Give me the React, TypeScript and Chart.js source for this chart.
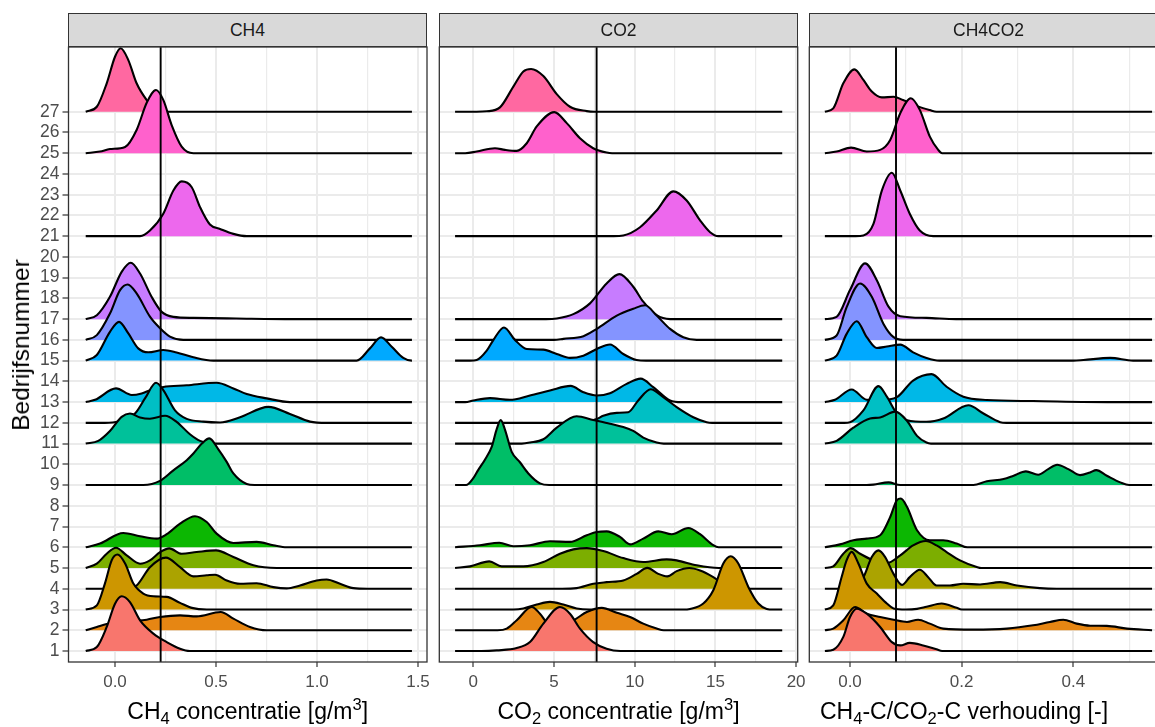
import React, { useEffect, useRef } from 'react';
import { Chart, registerables } from 'chart.js';

Chart.register(...registerables);

// ---------- data ----------
const farms = [1, 2, 3, 4, 5, 6, 9, 11, 12, 13, 15, 16, 17, 21, 25, 27];
const farmColors = ['#F8766D', '#E68613', '#CD9600', '#ABA300', '#7CAE00', '#0CB702', '#00BE67', '#00C19A',
  '#00BFC4', '#00B8E7', '#00A9FF', '#8494FF', '#C77CFF', '#ED68ED', '#FF61CC', '#FF68A1'];
const yTicks = [1, 2, 3, 4, 5, 6, 7, 8, 9, 10, 11, 12, 13, 14, 15, 16, 17, 18, 19, 20, 21, 22, 23, 24, 25, 26, 27];

// ridge heights [x, height above baseline], in farm order
const ch4Ridges: number[][][] = [
  /*1*/[[-0.09, 0.19], [-0.041, 1.16], [0, 2.28], [0.033, 2.64], [0.074, 2.36], [0.124, 1.48], [0.19, 0.84], [0.256, 0.43], [0.322, 0.11], [0.37, 0]],
  /*2*/[[-0.09, 0.16], [-0.041, 0.3], [0.02, 0.4], [0.09, 0.45], [0.157, 0.51], [0.223, 0.64], [0.322, 0.72], [0.404, 0.67], [0.523, 0.88], [0.586, 0.56], [0.668, 0.16], [0.751, 0]],
  /*3*/[[-0.09, 0.2], [-0.05, 1.25], [-0.016, 2.38], [0.012, 2.65], [0.05, 2.22], [0.091, 1.25], [0.14, 0.77], [0.19, 0.64], [0.256, 0.61], [0.322, 0.32], [0.38, 0.08], [0.454, 0]],
  /*4*/[[0.05, 0], [0.107, 0.16], [0.173, 1.04], [0.252, 1.5], [0.322, 1.04], [0.388, 0.6], [0.454, 0.65], [0.495, 0.68], [0.553, 0.4], [0.619, 0.24], [0.701, 0.27], [0.784, 0.08], [0.85, 0.02], [0.916, 0.16], [0.998, 0.4], [1.048, 0.45], [1.114, 0.24], [1.18, 0.03], [1.25, 0]],
  /*5*/[[-0.09, 0.21], [-0.041, 0.69], [0.005, 0.98], [0.058, 0.61], [0.124, 0.21], [0.173, 0.37], [0.223, 0.77], [0.269, 0.95], [0.33, 0.69], [0.404, 0.77], [0.5, 0.85], [0.586, 0.53], [0.685, 0.13], [0.8, 0]],
  /*6*/[[-0.074, 0.18], [0.041, 0.69], [0.124, 0.53], [0.206, 0.42], [0.256, 0.63], [0.322, 1.14], [0.396, 1.5], [0.454, 1.22], [0.503, 0.66], [0.586, 0.21], [0.701, 0.26], [0.784, 0.1], [0.85, 0]],
  /*9*/[[0.14, 0], [0.223, 0.2], [0.289, 0.71], [0.355, 1.2], [0.388, 1.52], [0.43, 2.0], [0.467, 2.25], [0.51, 1.75], [0.553, 1.12], [0.586, 0.56], [0.652, 0.05], [0.69, 0]],
  /*11*/[[-0.083, 0.13], [-0.025, 0.61], [0.033, 1.29], [0.074, 1.45], [0.124, 1.26], [0.173, 1.2], [0.248, 1.34], [0.305, 1.05], [0.371, 0.45], [0.421, 0.13], [0.487, 0]],
  /*12*/[[-0.05, 0], [0.02, 0.08], [0.099, 0.45], [0.15, 1.2], [0.203, 1.93], [0.239, 1.58], [0.297, 0.6], [0.355, 0.19], [0.437, 0.06], [0.52, 0.02], [0.619, 0.27], [0.759, 0.77], [0.866, 0.43], [0.965, 0.06], [1.048, 0]],
  /*13*/[[-0.099, 0.11], [0.005, 0.66], [0.083, 0.34], [0.132, 0.42], [0.18, 0.6], [0.239, 0.73], [0.355, 0.81], [0.503, 0.93], [0.586, 0.66], [0.652, 0.39], [0.751, 0.18], [0.866, 0]],
  /*15*/[[-0.09, 0.27], [-0.025, 1.39], [0.02, 1.87], [0.066, 1.31], [0.115, 0.59], [0.165, 0.4], [0.239, 0.51], [0.305, 0.39], [0.388, 0.16], [0.487, 0], [1.196, 0], [1.262, 0.59], [1.317, 1.12], [1.37, 0.67], [1.427, 0.13], [1.469, 0]],
  /*16*/[[-0.09, 0.23], [-0.025, 1.27], [0.025, 2.4], [0.063, 2.67], [0.107, 2.24], [0.173, 1.12], [0.223, 0.56], [0.272, 0.16], [0.338, 0]],
  /*17*/[[-0.09, 0.19], [-0.025, 1.08], [0.033, 2.28], [0.078, 2.72], [0.124, 2.2], [0.181, 1.08], [0.231, 0.35], [0.289, 0.11], [0.388, 0.06], [0.6, 0.03], [0.88, 0]],
  /*21*/[[0.124, 0], [0.173, 0.27], [0.239, 1.08], [0.289, 2.2], [0.33, 2.64], [0.38, 2.36], [0.421, 1.4], [0.47, 0.56], [0.52, 0.35], [0.586, 0.11], [0.652, 0]],
  /*25*/[[-0.074, 0.08], [-0.025, 0.2], [0.05, 0.3], [0.107, 1.12], [0.157, 2.43], [0.203, 3.05], [0.239, 2.57], [0.28, 1.37], [0.33, 0.32], [0.388, 0]],
  /*27*/[[-0.09, 0.24], [-0.041, 1.37], [0, 2.65], [0.028, 3.06], [0.066, 2.49], [0.107, 1.37], [0.157, 0.56], [0.206, 0.05], [0.25, 0]],
];

const co2Ridges: number[][][] = [
  /*1*/[[0.5, 0], [1.45, 0.03], [2.69, 0.14], [3.51, 0.43], [4.34, 1.32], [5.37, 2.12], [5.99, 1.8], [6.61, 1.08], [7.43, 0.43], [8.26, 0.11], [9.1, 0]],
  /*2*/[[1.5, 0], [2.07, 0.08], [2.69, 0.48], [3.62, 1.12], [4.13, 0.8], [4.65, 0.32], [5.3, 0.25], [6.2, 0.48], [7.03, 0.88], [7.96, 1.08], [8.89, 0.84], [9.71, 0.64], [10.53, 0.32], [11.36, 0.08], [11.8, 0]],
  /*3*/[[2.5, 0], [3.1, 0.05], [3.93, 0.24], [4.75, 0.37], [5.58, 0.24], [6.4, 0.05], [7.2, 0], [13.0, 0], [13.43, 0.03], [14.25, 0.29], [14.87, 0.93], [15.49, 2.22], [15.95, 2.57], [16.42, 2.22], [17.04, 1.09], [17.66, 0.29], [18.18, 0.03], [18.6, 0]],
  /*4*/[[5.5, 0], [6.4, 0.03], [7.43, 0.24], [8.26, 0.32], [9.29, 0.4], [10.12, 0.72], [10.78, 1.01], [11.46, 0.72], [12.02, 0.6], [12.6, 0.85], [13.38, 1.0], [14.05, 0.88], [14.87, 0.56], [15.49, 0.24], [16.3, 0]],
  /*5*/[[-0.2, 0.08], [0.99, 0.32], [1.76, 0.08], [3.1, 0.08], [4.34, 0.29], [5.37, 0.69], [6.2, 0.9], [7.03, 0.96], [8.05, 0.82], [9.29, 0.48], [10.53, 0.29], [11.98, 0.42], [12.6, 0.37], [13.84, 0.13], [15.2, 0]],
  /*6*/[[0.41, 0.1], [1.61, 0.22], [2.48, 0.05], [3.51, 0.1], [4.75, 0.29], [5.99, 0.26], [7.03, 0.58], [7.65, 0.74], [8.26, 0.77], [9.09, 0.5], [9.71, 0.14], [10.53, 0.42], [11.46, 0.77], [12.29, 0.63], [13.32, 0.93], [14.05, 0.63], [14.87, 0.1], [15.2, 0]],
  /*9*/[[-0.45, 0], [0.0, 0.33], [0.3, 0.72], [0.7, 1.2], [1.14, 1.84], [1.45, 2.7], [1.7, 3.13], [1.95, 2.7], [2.38, 1.6], [2.89, 1.1], [3.41, 0.56], [4.13, 0.08], [4.7, 0]],
  /*11*/[[3.0, 0], [3.51, 0.05], [4.34, 0.21], [5.17, 0.77], [6.4, 1.32], [7.43, 1.14], [8.47, 0.96], [9.29, 0.8], [9.91, 0.61], [10.53, 0.29], [11.36, 0.05], [11.8, 0]],
  /*12*/[[5.5, 0], [6.4, 0.03], [7.65, 0.19], [8.05, 0.34], [8.89, 0.48], [9.6, 0.51], [10.22, 1.08], [10.99, 1.62], [11.77, 1.24], [12.6, 0.76], [13.63, 0.27], [14.46, 0.03], [14.8, 0]],
  /*13*/[[-0.5, 0], [0, 0.08], [1.03, 0.19], [2.27, 0.11], [3.51, 0.32], [4.75, 0.56], [6.03, 0.78], [6.82, 0.48], [7.65, 0.32], [8.47, 0.43], [9.5, 0.88], [10.37, 1.13], [11.15, 0.72], [12.19, 0.08], [12.9, 0]],
  /*15*/[[-0.2, 0], [0.21, 0.03], [0.83, 0.48], [1.24, 0.99], [1.9, 1.6], [2.58, 1.0], [3.31, 0.56], [4.34, 0.53], [5.17, 0.32], [5.99, 0.13], [6.82, 0.24], [7.65, 0.56], [8.47, 0.78], [9.29, 0.32], [10.12, 0.03], [10.7, 0]],
  /*16*/[[5.0, 0], [5.58, 0.05], [6.82, 0.18], [7.65, 0.53], [8.89, 1.17], [9.91, 1.5], [10.64, 1.67], [11.36, 1.17], [12.19, 0.53], [13.01, 0.13], [13.84, 0]],
  /*17*/[[4.5, 0], [5.17, 0.03], [6.2, 0.24], [7.23, 0.76], [8.26, 1.72], [9.05, 2.17], [9.91, 1.56], [10.53, 0.84], [11.36, 0.19], [12.19, 0]],
  /*21*/[[8.7, 0], [9.29, 0.03], [10.33, 0.43], [11.36, 1.24], [12.39, 2.16], [13.22, 1.72], [14.05, 0.76], [14.67, 0.19], [15.18, 0]],
  /*25*/[[-0.5, 0], [0.21, 0.08], [1.34, 0.24], [1.96, 0.16], [2.69, 0.11], [3.31, 0.48], [3.93, 1.29], [5.02, 1.98], [5.79, 1.45], [6.61, 0.72], [7.43, 0.24], [8.26, 0.03], [8.6, 0]],
  /*27*/[[0.2, 0], [0.83, 0.02], [1.65, 0.21], [2.48, 1.21], [3.1, 1.94], [3.58, 2.06], [4.34, 1.72], [5.17, 0.85], [5.99, 0.24], [7.03, 0.03], [7.5, 0]],
];

const ratioRidges: number[][][] = [
  /*1*/[[-0.03, 0.06], [-0.012, 0.68], [0, 1.64], [0.012, 2.04], [0.03, 1.8], [0.054, 1.16], [0.075, 0.43], [0.09, 0.27], [0.107, 0.39], [0.131, 0.27], [0.155, 0.08], [0.165, 0]],
  /*2*/[[-0.03, 0.08], [-0.012, 0.48], [0.009, 1.12], [0.03, 0.8], [0.054, 0.64], [0.078, 0.51], [0.102, 0.4], [0.122, 0.51], [0.143, 0.32], [0.167, 0.08], [0.221, 0.03], [0.281, 0.08], [0.328, 0.24], [0.358, 0.4], [0.382, 0.51], [0.406, 0.32], [0.43, 0.22], [0.46, 0.21], [0.496, 0.08], [0.541, 0]],
  /*3*/[[-0.03, 0.2], [-0.015, 1.57], [-0.006, 2.38], [0.003, 2.78], [0.015, 2.22], [0.03, 1.25], [0.048, 0.77], [0.066, 0.29], [0.078, 0.05], [0.1, 0], [0.12, 0.03], [0.137, 0.13], [0.164, 0.29], [0.191, 0.08], [0.2, 0]],
  /*4*/[[-0.01, 0], [0.005, 0.08], [0.024, 0.56], [0.039, 1.53], [0.051, 1.85], [0.063, 1.53], [0.078, 0.72], [0.093, 0.19], [0.107, 0.56], [0.125, 0.92], [0.14, 0.56], [0.155, 0.16], [0.179, 0.16], [0.203, 0.24], [0.233, 0.21], [0.269, 0.32], [0.299, 0.16], [0.34, 0.03], [0.37, 0]],
  /*5*/[[-0.03, 0.08], [-0.012, 0.69], [0.001, 0.96], [0.018, 0.69], [0.042, 0.37], [0.066, 0.24], [0.09, 0.61], [0.113, 1.09], [0.136, 1.3], [0.155, 1.09], [0.173, 0.77], [0.197, 0.37], [0.227, 0.05], [0.235, 0]],
  /*6*/[[-0.018, 0.14], [0.006, 0.34], [0.03, 0.42], [0.054, 0.58], [0.072, 1.46], [0.084, 2.27], [0.091, 2.35], [0.102, 1.95], [0.12, 0.82], [0.143, 0.34], [0.167, 0.34], [0.191, 0.18], [0.21, 0]],
  /*9*/[[0.03, 0], [0.042, 0.02], [0.069, 0.13], [0.09, 0], [0.221, 0], [0.245, 0.18], [0.275, 0.29], [0.293, 0.45], [0.315, 0.66], [0.337, 0.5], [0.355, 0.77], [0.371, 0.98], [0.391, 0.77], [0.412, 0.48], [0.43, 0.61], [0.441, 0.72], [0.46, 0.45], [0.484, 0.13], [0.5, 0]],
  /*11*/[[-0.024, 0.13], [0.006, 0.77], [0.036, 1.21], [0.054, 1.26], [0.081, 1.54], [0.102, 1.1], [0.12, 0.37], [0.137, 0.05], [0.145, 0]],
  /*12*/[[-0.01, 0], [0, 0.03], [0.024, 0.6], [0.051, 1.77], [0.066, 1.26], [0.084, 0.45], [0.102, 0.13], [0.137, 0.05], [0.167, 0.21], [0.212, 0.85], [0.239, 0.45], [0.269, 0.03], [0.28, 0]],
  /*13*/[[-0.027, 0.11], [0.003, 0.61], [0.03, 0.11], [0.055, 0.1], [0.084, 0.24], [0.113, 1.04], [0.146, 1.35], [0.173, 0.74], [0.203, 0.26], [0.245, 0.1], [0.328, 0.05], [0.47, 0]],
  /*15*/[[-0.024, 0.24], [-0.006, 1.29], [0.012, 1.9], [0.03, 1.13], [0.048, 0.61], [0.066, 0.68], [0.09, 0.77], [0.113, 0.4], [0.137, 0.13], [0.16, 0], [0.4, 0], [0.418, 0.03], [0.466, 0.13], [0.507, 0]],
  /*16*/[[-0.024, 0.21], [-0.006, 1.58], [0.018, 2.72], [0.039, 2.08], [0.06, 0.77], [0.078, 0.13], [0.095, 0]],
  /*17*/[[-0.024, 0.11], [0, 1.4], [0.027, 2.69], [0.048, 1.88], [0.069, 0.6], [0.09, 0.14], [0.137, 0.06], [0.19, 0]],
  /*21*/[[0.01, 0], [0.024, 0.03], [0.042, 0.59], [0.057, 2.2], [0.075, 3.06], [0.09, 2.2], [0.107, 1.08], [0.125, 0.27], [0.149, 0]],
  /*25*/[[-0.024, 0.08], [0.002, 0.27], [0.03, 0.08], [0.054, 0.16], [0.072, 0.64], [0.09, 1.93], [0.109, 2.65], [0.125, 2.09], [0.143, 0.8], [0.158, 0.16], [0.165, 0]],
  /*27*/[[-0.03, 0.16], [-0.012, 1.37], [0.008, 2.04], [0.024, 1.53], [0.039, 0.97], [0.057, 0.69], [0.078, 0.72], [0.095, 0.56], [0.12, 0.27], [0.143, 0.08], [0.155, 0]],
];

// density ranges (where the ridge baseline is drawn)
const ch4Range = [-0.145, 1.47];
const co2Range = [-1.13, 19.14];
const ratioRange = [-0.045, 0.541];

// reference (vertical) lines
const ch4Ref = 0.226;
const co2Ref = 7.64;
const ratioRef = 0.0824;

// axis ticks
const ch4Major = [0, 0.5, 1.0, 1.5];
const ch4Minor = [0.25, 0.75, 1.25];
const co2Major = [0, 5, 10, 15, 20];
const co2Minor = [2.5, 7.5, 12.5, 17.5];
const ratioMajor = [0, 0.2, 0.4];
const ratioMinor = [0.1, 0.3, 0.5];

const FONT = "'Liberation Sans', Arial, Helvetica, sans-serif";
const Y_MIN = 0.47;
const Y_MAX = 30.12;
const AREA_TOP = 47;
const AREA_BOTTOM = 662;
const CANVAS_H = 727;
const X_AXIS_H = 30;
const Y_AXIS_W = 68.5;

type PanelProps = {
  left: number; width: number; areaLeft: number; areaRight: number;
  xMin: number; xMax: number; ridges: number[][][]; range: number[]; refX: number;
  major: number[]; minor: number[]; fmt: (v: number) => string; showY: boolean;
};

const isIn = (arr: number[], v: number) => arr.some((m) => Math.abs(m - v) < 1e-9);

function RidgePanel(p: PanelProps) {
  const ref = useRef<HTMLCanvasElement | null>(null);
  useEffect(() => {
    if (!ref.current) return;
    const datasets = farms.map((f, i) => {
      const pts = p.ridges[i];
      const data: { x: number; y: number }[] = [];
      if (pts[0][0] > p.range[0]) data.push({ x: p.range[0], y: f });
      pts.forEach(([x, h]) => data.push({ x, y: f + h }));
      if (pts[pts.length - 1][0] < p.range[1]) data.push({ x: p.range[1], y: f });
      return {
        label: 'Bedrijf ' + f,
        data,
        fill: { value: f },
        backgroundColor: farmColors[i],
        borderColor: '#000000',
        borderWidth: 2.1,
        borderJoinStyle: 'round' as const,
        pointRadius: 0,
        cubicInterpolationMode: 'monotone' as const,
      };
    });
    const allX = [...p.minor, ...p.major].sort((a, b) => a - b);
    const padLeft = p.areaLeft - p.left - (p.showY ? Y_AXIS_W : 0);
    const padRight = p.left + p.width - p.areaRight;
    const refX = p.refX;
    const overlay = {
      id: 'overlay',
      afterDatasetsDraw(chart: any) {
        const { ctx, chartArea: a, scales } = chart;
        const px = scales.x.getPixelForValue(refX);
        ctx.save();
        ctx.strokeStyle = '#000000';
        ctx.lineWidth = 1.9;
        ctx.beginPath();
        ctx.moveTo(px, a.top);
        ctx.lineTo(px, a.bottom);
        ctx.stroke();
        ctx.strokeStyle = '#333333';
        ctx.lineWidth = 1.3;
        ctx.strokeRect(a.left, a.top, a.right - a.left, a.bottom - a.top);
        ctx.restore();
      },
    };
    const chart = new Chart(ref.current, {
      type: 'line',
      data: { datasets },
      plugins: [overlay],
      options: {
        responsive: false,
        maintainAspectRatio: false,
        animation: false,
        events: [],
        layout: { padding: { left: padLeft, right: padRight, top: AREA_TOP, bottom: CANVAS_H - AREA_BOTTOM - X_AXIS_H } },
        plugins: { legend: { display: false }, tooltip: { enabled: false }, title: { display: false } },
        scales: {
          x: {
            type: 'linear',
            min: p.xMin,
            max: p.xMax,
            afterBuildTicks: (ax: any) => { ax.ticks = allX.map((v) => ({ value: v })); },
            afterFit: (ax: any) => { ax.height = X_AXIS_H; ax.paddingLeft = 0; ax.paddingRight = 0; },
            ticks: {
              autoSkip: false, maxRotation: 0, minRotation: 0, padding: 5,
              color: '#4D4D4D', font: { family: FONT, size: 17 },
              callback: (v: any) => (isIn(p.major, Number(v)) ? p.fmt(Number(v)) : ''),
            },
            grid: {
              color: '#EBEBEB',
              lineWidth: (ctx: any) => (ctx.tick && isIn(p.major, ctx.tick.value) ? 2 : 1.2),
              tickLength: 5,
              tickWidth: 1.2,
              tickColor: (ctx: any) => (ctx.tick && isIn(p.major, ctx.tick.value) ? '#333333' : 'rgba(0,0,0,0)'),
            },
            border: { display: false },
          },
          y: {
            type: 'linear',
            min: Y_MIN,
            max: Y_MAX,
            afterBuildTicks: (ax: any) => { ax.ticks = yTicks.map((v) => ({ value: v })); },
            afterFit: (ax: any) => { ax.width = p.showY ? Y_AXIS_W : 0; ax.paddingTop = 0; ax.paddingBottom = 0; },
            ticks: {
              display: p.showY, autoSkip: false, padding: 3, color: '#4D4D4D', font: { family: FONT, size: 17.5 },
              callback: (v: any) => String(v),
            },
            grid: {
              color: '#EBEBEB', lineWidth: 2, drawTicks: p.showY, tickLength: 6, tickWidth: 1.2, tickColor: '#333333',
            },
            border: { display: false },
          },
        },
      } as any,
    });
    return () => chart.destroy();
  }, []);
  return (
    <canvas
      ref={ref}
      width={p.width}
      height={CANVAS_H}
      style={{ position: 'absolute', left: p.left, top: 0, width: p.width, height: CANVAS_H }}
    />
  );
}

const stripStyle = (left: number): React.CSSProperties => ({
  position: 'absolute', left, top: 13, width: 359, height: 34, boxSizing: 'border-box',
  border: '1px solid #333333', background: '#D9D9D9', color: '#1A1A1A',
  fontFamily: FONT, fontSize: 17.5, lineHeight: '33px', textAlign: 'center',
});

const subStyle: React.CSSProperties = { fontSize: '0.72em', verticalAlign: '-0.28em', lineHeight: 0 };
const supStyle: React.CSSProperties = { fontSize: '0.72em', verticalAlign: '0.55em', lineHeight: 0 };

const xTitleStyle = (cx: number): React.CSSProperties => ({
  position: 'absolute', left: cx, top: 700, transform: 'translateX(-50%)', whiteSpace: 'nowrap',
  fontFamily: FONT, fontSize: 23, lineHeight: '23px', color: '#000000',
});

export default function App() {
  return (
    <div style={{ position: 'absolute', left: 0, top: 0, width: 1155, height: 727, overflow: 'hidden', background: '#FFFFFF' }}>
      <RidgePanel left={0} width={440} areaLeft={68.5} areaRight={427} xMin={-0.2302} xMax={1.5446}
        ridges={ch4Ridges} range={ch4Range} refX={ch4Ref} major={ch4Major} minor={ch4Minor}
        fmt={(v) => v.toFixed(1)} showY={true} />
      <RidgePanel left={432} width={380} areaLeft={439.3} areaRight={797.7} xMin={-2.107} xMax={20.099}
        ridges={co2Ridges} range={co2Range} refX={co2Ref} major={co2Major} minor={co2Minor}
        fmt={(v) => String(v)} showY={false} />
      <RidgePanel left={802} width={380} areaLeft={809.3} areaRight={1167.7} xMin={-0.0729} xMax={0.569}
        ridges={ratioRidges} range={ratioRange} refX={ratioRef} major={ratioMajor} minor={ratioMinor}
        fmt={(v) => v.toFixed(1)} showY={false} />

      <div style={stripStyle(68)}>CH4</div>
      <div style={stripStyle(439)}>CO2</div>
      <div style={stripStyle(809)}>CH4CO2</div>

      <div style={xTitleStyle(247.7)}>CH<sub style={subStyle}>4</sub> concentratie [g/m<sup style={supStyle}>3</sup>]</div>
      <div style={xTitleStyle(618.5)}>CO<sub style={subStyle}>2</sub> concentratie [g/m<sup style={supStyle}>3</sup>]</div>
      <div style={xTitleStyle(964)}>CH<sub style={subStyle}>4</sub>-C/CO<sub style={subStyle}>2</sub>-C verhouding [-]</div>

      <div style={{
        position: 'absolute', left: 20.5, top: 345, transform: 'translate(-50%, -50%) rotate(-90deg)',
        whiteSpace: 'nowrap', fontFamily: FONT, fontSize: 24.5, lineHeight: '24px', color: '#000000',
      }}>Bedrijfsnummer</div>
    </div>
  );
}
